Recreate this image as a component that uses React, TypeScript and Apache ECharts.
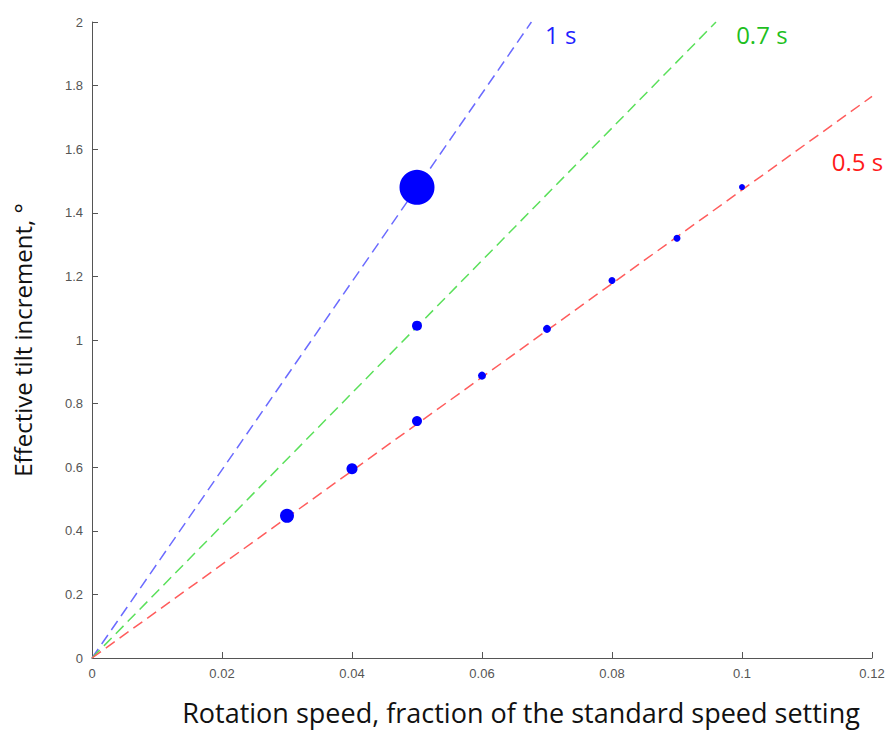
import React, { useEffect, useRef } from "react";
import * as echarts from "echarts";

const speedX = [0.05, 0.05, 0.05, 0.03, 0.04, 0.06, 0.07, 0.08, 0.09, 0.1];
const tiltY = [1.48, 1.045, 0.745, 0.447, 0.595, 0.888, 1.035, 1.187, 1.32, 1.481];
const markerSize = [35, 10, 10, 14, 11, 8, 8, 7, 7, 6];

const fitNames = ["1 s", "0.7 s", "0.5 s"];
const fitEndX = [0.0676, 0.096, 0.12];
const fitEndY = [2, 2, 1.766];
const fitColors = ["#6b6bff", "#5ae05a", "#ff5c5c"];
const labelColors = ["#1f1fff", "#1fbf1f", "#ff1a1a"];
const labelX = [0.0697, 0.0991, 0.1138];
const labelY = [1.962, 1.962, 1.56];

export default function App() {
  const ref = useRef<HTMLDivElement>(null);
  useEffect(() => {
    if (!ref.current) return;
    const chart = echarts.init(ref.current, undefined, { renderer: "svg" });
    const lineSeries = fitNames.map((name, i) => ({
      type: "line",
      name,
      data: [
        [0, 0],
        [fitEndX[i], fitEndY[i]],
      ],
      symbol: "none",
      lineStyle: { color: fitColors[i], width: 1.5, type: [11, 6] },
      z: 1,
      markPoint: {
        symbol: "circle",
        symbolSize: 0,
        data: [
          {
            coord: [labelX[i], labelY[i]],
            label: {
              show: true,
              formatter: name,
              position: "right",
              distance: 0,
              color: labelColors[i],
              fontSize: 24,
              fontFamily: "Open Sans",
            },
          },
        ],
      },
    }));
    chart.setOption({
      animation: false,
      backgroundColor: "#ffffff",
      grid: { left: 92, top: 22, width: 780, height: 636, outerBoundsMode: "none", containLabel: false },
      xAxis: {
        type: "value",
        min: 0,
        max: 0.12,
        interval: 0.02,
        name: "Rotation speed, fraction of the standard speed setting",
        nameLocation: "middle",
        nameGap: 41,
        nameTextStyle: {
          fontSize: 27,
          lineHeight: 27,
          fontFamily: "Open Sans",
          color: "#111",
          padding: [0, 0, 0, 78],
        },
        axisLine: { lineStyle: { color: "#555", width: 1 } },
        axisTick: { inside: true, length: 6, lineStyle: { color: "#555" } },
        axisLabel: { color: "#555", fontSize: 13, fontFamily: "Liberation Sans", margin: 9 },
        splitLine: { show: false },
      },
      yAxis: {
        type: "value",
        min: 0,
        max: 2,
        interval: 0.2,
        name: "Effective tilt increment, °",
        nameLocation: "middle",
        nameGap: 58,
        nameTextStyle: { fontSize: 24, fontFamily: "Open Sans", color: "#111" },
        axisLine: { show: true, lineStyle: { color: "#555", width: 1 } },
        axisTick: { show: true, inside: true, length: 6, lineStyle: { color: "#555" } },
        axisLabel: { color: "#555", fontSize: 13, fontFamily: "Liberation Sans", margin: 9 },
        splitLine: { show: false },
      },
      series: [
        ...lineSeries,
        {
          type: "scatter",
          data: speedX.map((x, i) => [x, tiltY[i], markerSize[i]]),
          symbolSize: (v: number[]) => v[2],
          itemStyle: { color: "#0000ff", opacity: 1 },
          z: 3,
        },
      ],
    });
    return () => chart.dispose();
  }, []);
  return (
    <div
      ref={ref}
      style={{ position: "absolute", left: 0, top: 0, width: 889, height: 733 }}
    />
  );
}
